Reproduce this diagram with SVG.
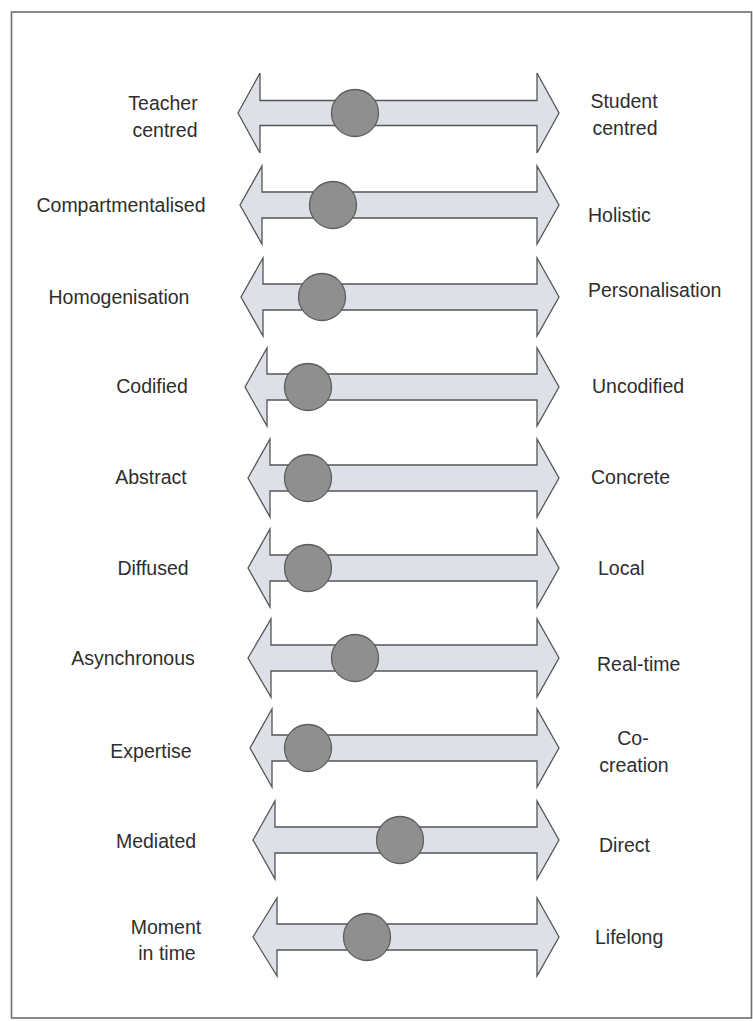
<svg xmlns="http://www.w3.org/2000/svg" width="753" height="1021" viewBox="0 0 753 1021">
<style>
.frame{fill:#ffffff;stroke:#6e6e6e;stroke-width:1.6}
.arrow{fill:#dde0e6;stroke:#555555;stroke-width:1.3;stroke-linejoin:miter}
.dot{fill:#8f8f8f;stroke:#5e5e5e;stroke-width:1.3}
.lbl{font-family:"Liberation Sans",Arial,sans-serif;font-size:19.5px;fill:#2e2e2e}
.l{text-anchor:middle}
.r{text-anchor:start}
.c{text-anchor:middle}
</style>
<rect class="frame" x="11.5" y="12" width="740" height="1006"/>
<g id="connectors">
<polygon class="arrow" points="238,113 260,73 260,100.5 537,100.5 537,73 559,113 537,153 537,125.5 260,125.5 260,153"/>
<polygon class="arrow" points="240,205 262,166 262,192 537,192 537,166 559,205 537,244 537,218 262,218 262,244"/>
<polygon class="arrow" points="241,297 263,258 263,284 537,284 537,258 559,297 537,336 537,310 263,310 263,336"/>
<polygon class="arrow" points="245,387 267,348 267,374 537,374 537,348 559,387 537,426 537,400 267,400 267,426"/>
<polygon class="arrow" points="248,478 270,439 270,465 537,465 537,439 559,478 537,517 537,491 270,491 270,517"/>
<polygon class="arrow" points="248,568 270,529 270,555 537,555 537,529 559,568 537,607 537,581 270,581 270,607"/>
<polygon class="arrow" points="248,658 271,619 271,645 537,645 537,619 559,658 537,697 537,671 271,671 271,697"/>
<polygon class="arrow" points="250,748 272,709 272,735 537,735 537,709 559,748 537,787 537,761 272,761 272,787"/>
<polygon class="arrow" points="253,840 275,801 275,827 537,827 537,801 559,840 537,879 537,853 275,853 275,879"/>
<polygon class="arrow" points="253,937 277,898 277,924 537,924 537,898 559,937 537,976 537,950 277,950 277,976"/>
</g>
<g id="row1"><circle class="dot" cx="355" cy="113" r="23.5"/><text class="lbl l" x="163" y="110">Teacher</text><text class="lbl l" x="165" y="137">centred</text><text class="lbl c" x="624" y="108">Student</text><text class="lbl c" x="625" y="135">centred</text></g>
<g id="row2"><circle class="dot" cx="333" cy="205" r="23.5"/><text class="lbl l" x="121" y="212">Compartmentalised</text><text class="lbl r" x="588" y="222">Holistic</text></g>
<g id="row3"><circle class="dot" cx="322" cy="297" r="23.5"/><text class="lbl l" x="119" y="304">Homogenisation</text><text class="lbl r" x="588" y="297">Personalisation</text></g>
<g id="row4"><circle class="dot" cx="308" cy="387" r="23.5"/><text class="lbl l" x="152" y="393">Codified</text><text class="lbl r" x="592" y="393">Uncodified</text></g>
<g id="row5"><circle class="dot" cx="308" cy="478" r="23.5"/><text class="lbl l" x="151" y="484">Abstract</text><text class="lbl r" x="591" y="484">Concrete</text></g>
<g id="row6"><circle class="dot" cx="308" cy="568" r="23.5"/><text class="lbl l" x="153" y="575">Diffused</text><text class="lbl r" x="598" y="575">Local</text></g>
<g id="row7"><circle class="dot" cx="355" cy="658" r="23.5"/><text class="lbl l" x="133" y="665">Asynchronous</text><text class="lbl r" x="597" y="671">Real-time</text></g>
<g id="row8"><circle class="dot" cx="308" cy="748" r="23.5"/><text class="lbl l" x="151" y="758">Expertise</text><text class="lbl c" x="633" y="745">Co-</text><text class="lbl c" x="634" y="772">creation</text></g>
<g id="row9"><circle class="dot" cx="400" cy="840" r="23.5"/><text class="lbl l" x="156" y="848">Mediated</text><text class="lbl r" x="599" y="852">Direct</text></g>
<g id="row10"><circle class="dot" cx="367" cy="937" r="23.5"/><text class="lbl l" x="166" y="934">Moment</text><text class="lbl l" x="167" y="960">in time</text><text class="lbl r" x="595" y="944">Lifelong</text></g>
</svg>
